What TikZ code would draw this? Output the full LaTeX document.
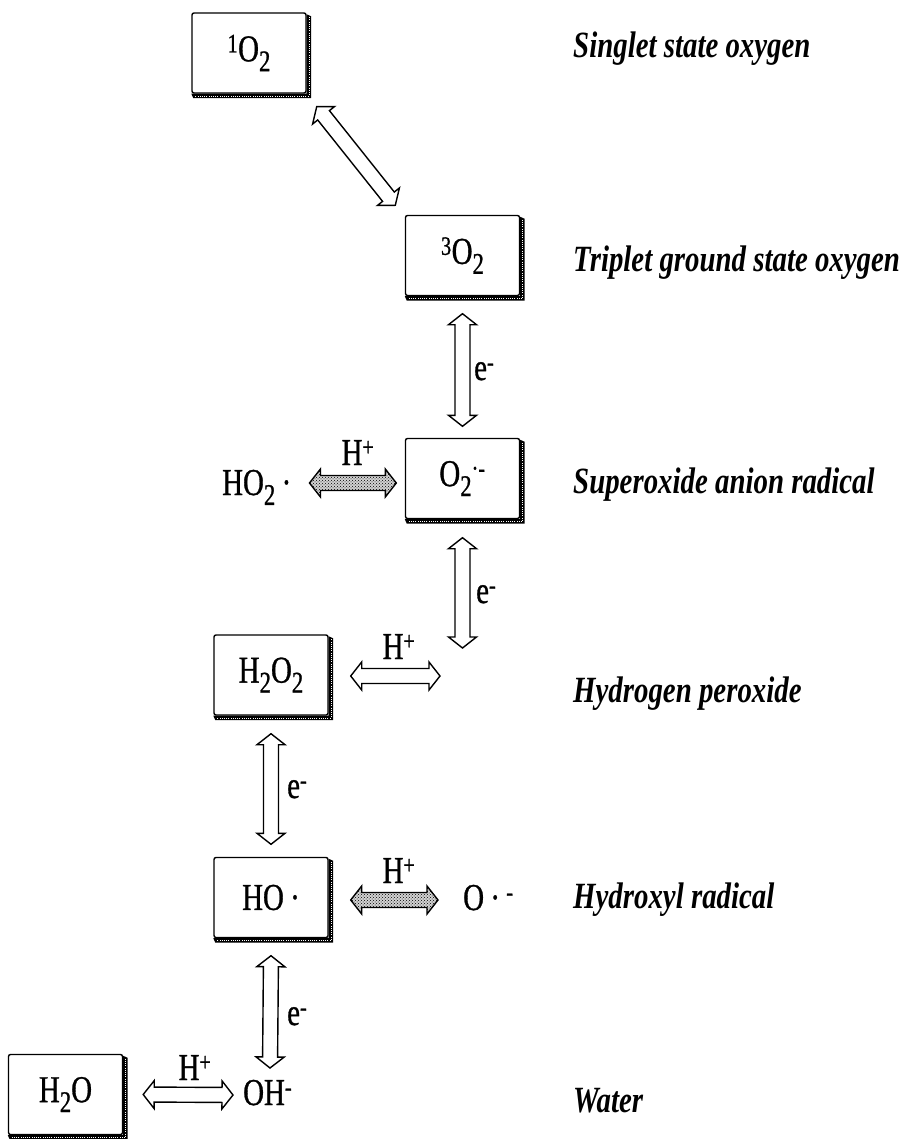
\documentclass[tikz,border=0pt]{standalone}
\usepackage{fontspec}
\setmainfont[FakeStretch=0.82]{Liberation Serif}
\newfontfamily\chemfont[FakeStretch=0.76,FakeBold=0.8]{Liberation Serif}
\newfontfamily\labfont[FakeStretch=0.78]{Liberation Serif}
\usetikzlibrary{calc,patterns}
\newcommand\sub[1]{\raisebox{-0.26em}{\fontsize{30}{30}\selectfont #1}}
\newcommand\dblarr[3][]{%
 \draw[arrbody,#1] let \p1=(#2), \p2=(#3), \n1={atan2(\y2-\y1,\x2-\x1)} in
 (\p1) -- ($(\p1)+(\n1:11pt)+(\n1+90:14pt)$) -- ($(\p1)+(\n1:11pt)+(\n1+90:7.5pt)$)
 -- ($(\p2)+(\n1+180:11pt)+(\n1+90:7.5pt)$) -- ($(\p2)+(\n1+180:11pt)+(\n1+90:14pt)$)
 -- (\p2) -- ($(\p2)+(\n1+180:11pt)+(\n1-90:14pt)$) -- ($(\p2)+(\n1+180:11pt)+(\n1-90:7.5pt)$)
 -- ($(\p1)+(\n1:11pt)+(\n1-90:7.5pt)$) -- ($(\p1)+(\n1:11pt)+(\n1-90:14pt)$) -- cycle;}
\newcommand\boxshadow[1]{%
 \fill[black] ($(#1.north east)+(0pt,-2pt)$) -- ++(4.5pt,-2pt) -- ($(#1.south east)+(4.5pt,-4.5pt)$)
   -- ($(#1.south west)+(2pt,-4.5pt)$) -- (#1.south west) -- (#1.south east) -- cycle;
 \draw[white, line width=0.9pt, dash pattern=on 1pt off 1.2pt]
   ($(#1.north east)+(2.3pt,-5pt)$) -- ($(#1.south east)+(2.3pt,-2.3pt)$) -- ($(#1.south west)+(4pt,-2.3pt)$);}
\begin{document}
\begin{tikzpicture}[x=1pt,y=-1pt,
  species/.style={draw, line width=1.4pt, rounded corners=2pt, minimum width=114pt,
    minimum height=80pt, inner sep=0pt, fill=white, font=\chemfont\fontsize{38}{42}\selectfont},
  chem/.style={inner sep=0pt, anchor=base west, font=\chemfont\fontsize{38}{42}\selectfont},
  lbl/.style={inner sep=0pt, anchor=base west, font=\labfont\fontsize{37}{42}\selectfont\bfseries\itshape},
  elab/.style={inner sep=0pt, anchor=base west, font=\chemfont\fontsize{38}{42}\selectfont},
  hlab/.style={inner sep=0pt, anchor=base, font=\chemfont\fontsize{38}{42}\selectfont},
  arrbody/.style={draw, line width=1.4pt, fill=white, line join=miter},
  dotfill/.style={preaction={fill=gray!35}, pattern=crosshatch dots, pattern color=black}]
\useasboundingbox (0,0) rectangle (905,1139);
% species boxes
\node[species] (o1) at (249,53) {\textsuperscript{1}O\sub{2}};
\node[species] (t3) at (462.5,255.5) {\textsuperscript{3}O\sub{2}};
\node[species] (sup) at (462.5,478.5) {O\sub{2}\textsuperscript{·-}};
\node[species] (h2o2) at (271,675) {H\sub{2}O\sub{2}};
\node[species] (ho) at (271,897.5) {HO\,·};
\node[species] (h2o) at (65.5,1094.5) {H\sub{2}O};
\foreach \b in {o1,t3,sup,h2o2,ho,h2o} {\boxshadow{\b}}
% free species
\node[chem] (ho2) at (222,495) {HO\sub{2}\,·};
\node[chem] (orad) at (463,910) {O\,·\,\textsuperscript{-}};
\node[chem] (oh) at (243,1105) {OH\textsuperscript{-}};
\coordinate (hp) at (462.5,648);
\coordinate (hq) at (440,676);
% connectors
\dblarr{$(o1.south east)+(10pt,-13pt)$}{$(t3.north west)+(-9.5pt,9.5pt)$}
\dblarr{$(t3.south)+(0pt,-17.5pt)$}{$(sup.north)+(0pt,11.5pt)$}
\dblarr[dotfill]{$(ho2.base east)+(18pt,12pt)$}{$(sup.west)+(-8.5pt,-4.5pt)$}
\dblarr{$(sup.south)+(0pt,-18.5pt)$}{hp}
\dblarr{$(h2o2.east)+(22pt,-1pt)$}{hq}
\dblarr{$(h2o2.south)+(0pt,-18pt)$}{$(ho.north)+(0pt,12.5pt)$}
\dblarr[dotfill]{$(ho.east)+(22pt,-2.5pt)$}{$(orad.base west)+(-25pt,10pt)$}
\dblarr{$(ho.south)+(0pt,-17.5pt)$}{$(oh.base west)+(27pt,37pt)$}
\dblarr{$(h2o.east)+(20pt,0pt)$}{$(oh.base west)+(-10pt,10pt)$}
% connector labels
\node[elab] (e1) at (474,380) {e\textsuperscript{-}};
\node[elab] (e2) at (476,603) {e\textsuperscript{-}};
\node[elab] (e3) at (287,798) {e\textsuperscript{-}};
\node[elab] (e4) at (287,1025) {e\textsuperscript{-}};
\node[hlab] (h1) at (358,465) {H\textsuperscript{+}};
\node[hlab] (h2) at (399,659) {H\textsuperscript{+}};
\node[hlab] (h3) at (399,883) {H\textsuperscript{+}};
\node[hlab] (h4) at (195,1080) {H\textsuperscript{+}};
% names
\node[lbl] (L1) at (573,58) {Singlet state oxygen};
\node[lbl] (L2) at (573,272) {Triplet ground state oxygen};
\node[lbl] (L3) at (573,493) {Superoxide anion radical};
\node[lbl] (L4) at (573,702) {Hydrogen peroxide};
\node[lbl] (L5) at (573,908) {Hydroxyl radical};
\node[lbl] (L6) at (573,1112) {Water};
\end{tikzpicture}
\end{document}
